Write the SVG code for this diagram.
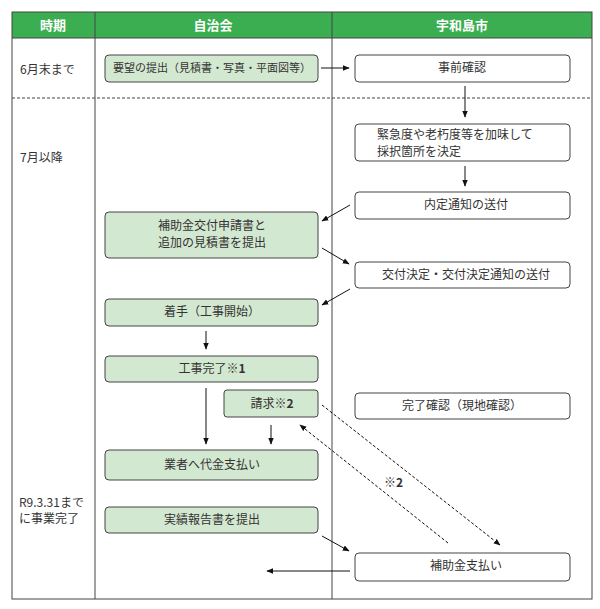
<svg xmlns="http://www.w3.org/2000/svg" width="600" height="609" viewBox="0 0 600 609">
<style>
text{font-family:"Noto Sans CJK JP","Liberation Sans",sans-serif;font-size:12px;fill:#333}
.h{fill:#fff;font-weight:bold;font-size:13px;text-anchor:middle}
.g rect{fill:#d3e8d0;stroke:#444;stroke-width:1}
.w rect{fill:#fff;stroke:#444;stroke-width:1}
.g text,.w text{text-anchor:middle}
.c line{stroke:#111;stroke-width:1;marker-end:url(#a)}
.c .d{stroke-dasharray:3 2}
</style>
<defs><marker id="a" viewBox="0 0 10 10" refX="9" refY="5" markerWidth="7" markerHeight="7" orient="auto"><path d="M0 1L10 5L0 9z" fill="#111"/></marker></defs>
<rect width="600" height="609" fill="#fff"/>
<rect x="12" y="12" width="580" height="26" fill="#3cae52"/>
<rect x="12" y="12" width="580" height="587" fill="none" stroke="#444"/>
<line x1="12" y1="38" x2="592" y2="38" stroke="#444"/>
<line x1="95" y1="12" x2="95" y2="599" stroke="#444"/>
<line x1="332" y1="12" x2="332" y2="599" stroke="#444"/>
<line x1="12" y1="98" x2="592" y2="98" stroke="#444" stroke-dasharray="3 2"/>
<text class="h" x="53" y="30">時期</text>
<text class="h" x="213" y="30">自治会</text>
<text class="h" x="462" y="30">宇和島市</text>
<text x="20" y="74">6月末まで</text>
<text x="20" y="162">7月以降</text>
<text x="19" y="507">R9.3.31まで</text>
<text x="19" y="523">に事業完了</text>
<g id="n1" class="g"><rect x="105" y="55" width="213" height="27" rx="4"/><text x="212" y="72" style="font-size:11px">要望の提出（見積書・写真・平面図等）</text></g>
<g id="n2" class="w"><rect x="355" y="55" width="215" height="27" rx="4"/><text x="462" y="72">事前確認</text></g>
<g id="n3" class="w"><rect x="355" y="124" width="215" height="37" rx="4"/><text x="377" y="139" style="text-anchor:start">緊急度や老朽度等を加味して</text><text x="377" y="156" style="text-anchor:start">採択箇所を決定</text></g>
<g id="n4" class="w"><rect x="355" y="192" width="215" height="27" rx="4"/><text x="466" y="209">内定通知の送付</text></g>
<g id="n5" class="g"><rect x="105" y="212" width="213" height="46" rx="4"/><text x="212" y="230">補助金交付申請書と</text><text x="212" y="247">追加の見積書を提出</text></g>
<g id="n6" class="w"><rect x="355" y="262" width="215" height="26" rx="4"/><text x="466" y="279">交付決定・交付決定通知の送付</text></g>
<g id="n7" class="g"><rect x="105" y="299" width="213" height="27" rx="4"/><text x="212" y="316">着手（工事開始）</text></g>
<g id="n8" class="g"><rect x="105" y="356" width="213" height="26" rx="4"/><text x="212" y="373">工事完了※<tspan font-weight="bold">1</tspan></text></g>
<g id="n9" class="g"><rect x="224" y="390" width="94" height="27" rx="3"/><text x="272" y="408">請求※<tspan font-weight="bold">2</tspan></text></g>
<g id="n10" class="w"><rect x="355" y="393" width="215" height="26" rx="4"/><text x="462" y="410">完了確認（現地確認）</text></g>
<g id="n11" class="g"><rect x="105" y="450" width="213" height="30" rx="4"/><text x="212" y="469">業者へ代金支払い</text></g>
<g id="n12" class="g"><rect x="105" y="507" width="213" height="26" rx="4"/><text x="212" y="524">実績報告書を提出</text></g>
<g id="n13" class="w"><rect x="355" y="553" width="215" height="28" rx="4"/><text x="466" y="570">補助金支払い</text></g>
<g id="edges" class="c">
<line x1="321" y1="68" x2="349" y2="68"/>
<line x1="465" y1="86" x2="465" y2="117"/>
<line x1="465" y1="166" x2="465" y2="186"/>
<line x1="350" y1="205" x2="322" y2="221"/>
<line x1="322" y1="248" x2="349" y2="264"/>
<line x1="350" y1="289" x2="322" y2="305"/>
<line x1="206" y1="331" x2="206" y2="349"/>
<line x1="206" y1="388" x2="206" y2="444"/>
<line x1="271" y1="425" x2="271" y2="444"/>
<line class="d" x1="322" y1="405" x2="500" y2="545"/>
<line class="d" x1="448" y1="543" x2="300" y2="425"/>
<line x1="322" y1="536" x2="349" y2="551"/>
<line x1="350" y1="571" x2="267" y2="571"/>
</g>
<text x="384" y="487">※<tspan font-weight="bold">2</tspan></text>
</svg>
